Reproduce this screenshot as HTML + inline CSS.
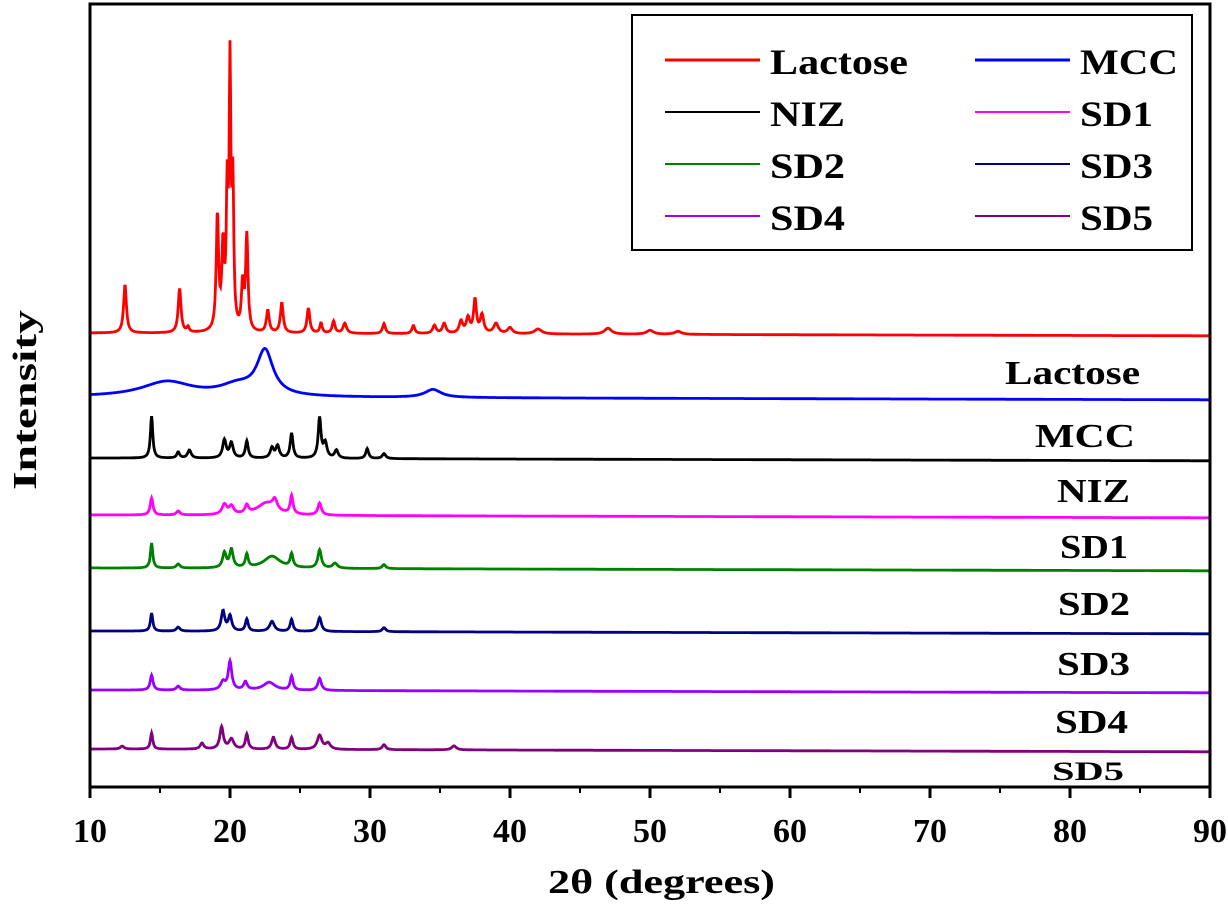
<!DOCTYPE html>
<html><head><meta charset="utf-8"><style>
body{margin:0;background:#fff}
svg text{font-family:"Liberation Serif",serif;font-weight:bold;fill:#000}
</style></head><body>
<svg id="chart" width="1228" height="908" viewBox="0 0 1228 908">
<g id="series"></g>
<rect x="90" y="4" width="1120" height="783" fill="none" stroke="#000" stroke-width="3"/>
<g id="xticks"></g>
<text x="548" y="893" font-size="34" textLength="227" lengthAdjust="spacingAndGlyphs">2θ (degrees)</text>
<text transform="translate(36,490) rotate(-90)" font-size="34" textLength="180" lengthAdjust="spacingAndGlyphs">Intensity</text>
<g id="labels"></g>
<g>
<rect x="632" y="15" width="560" height="235" fill="#fff" stroke="#000" stroke-width="2"/>
<g id="legend"></g>
</g>
</svg>
<script>
const seriesNames=["Lactose","MCC","NIZ","SD1","SD2","SD3","SD4","SD5"];
const seriesColors=["#ff0000","#0000ff","#000000","#ff00ff","#008000","#000080","#9900ff","#800080"];
const baselines=[333,397,458,515,568,631,690,749];
const xTicks=[10,20,30,40,50,60,70,80,90];
// peaks: [2theta, height, width]
const peaksLactose=[[12.5,48,0.12],[16.4,44,0.12],[17,5,0.1],[19.1,115,0.1],[19.5,80,0.1],[19.8,130,0.08],[20.0,250,0.07],[20.2,140,0.08],[20.9,45,0.1],[21.2,95,0.1],[22.7,22,0.12],[23.7,30,0.12],[25.6,25,0.12],[26.5,10,0.1],[27.4,12,0.12],[28.2,10,0.15],[31.0,10,0.12],[33.1,8,0.12],[34.6,8,0.15],[35.3,10,0.15],[36.5,12,0.15],[37.0,15,0.15],[37.5,33,0.12],[38.0,18,0.15],[39.0,10,0.2],[40.0,6,0.2],[42,5,0.3],[47,6,0.3],[50,4,0.3],[52,3,0.3]];
const peaksMCC=[[15.5,15,2.2],[20.5,10,1.5],[22.5,44,0.7],[34.5,8,0.7]];
const peaksNIZ=[[14.4,42,0.1],[16.3,6,0.12],[17.1,8,0.15],[19.6,18,0.15],[20.1,15,0.15],[21.2,17,0.12],[23.0,10,0.15],[23.4,12,0.15],[24.4,25,0.12],[26.4,40,0.12],[26.8,15,0.15],[27.6,8,0.15],[29.8,10,0.12],[31.0,5,0.15]];
const peaksSD1=[[14.4,17,0.12],[16.3,4,0.15],[19.6,10,0.2],[20.1,8,0.2],[21.2,8,0.15],[22.6,12,0.8],[23.2,10,0.2],[24.4,18,0.12],[26.4,12,0.15]];
const peaksSD2=[[14.4,25,0.1],[16.3,4,0.15],[19.6,15,0.15],[20.1,18,0.15],[21.2,13,0.12],[23.0,12,0.7],[24.4,13,0.12],[26.4,18,0.15],[27.5,5,0.2],[31.0,4,0.15]];
const peaksSD3=[[14.4,18,0.1],[16.3,4,0.15],[19.5,20,0.15],[20.0,15,0.15],[21.2,12,0.12],[23.0,10,0.2],[24.4,12,0.12],[26.4,14,0.15],[31,4,0.15]];
const peaksSD4=[[14.4,15,0.12],[16.3,4,0.15],[19.5,8,0.2],[20.0,28,0.15],[21.1,8,0.15],[22.8,8,0.5],[24.4,14,0.12],[26.4,12,0.15]];
const peaksSD5=[[12.3,3,0.15],[14.4,16,0.1],[18.0,6,0.15],[19.4,22,0.15],[20.1,10,0.2],[21.2,15,0.12],[23.1,12,0.15],[24.4,12,0.12],[26.4,14,0.2],[27.0,6,0.2],[31,5,0.15],[36,4,0.2]];
const allPeaks=[peaksLactose,peaksMCC,peaksNIZ,peaksSD1,peaksSD2,peaksSD3,peaksSD4,peaksSD5];
const labelPos=[[1005,384,34,135],[1035,447,34,100],[1057,502,34,73],[1060,558,34,68],[1058,615,34,72],[1057,675,34,73],[1055,733,34,73],[1052,780,26,72]];
const NS="http://www.w3.org/2000/svg";
const X=v=>90+(v-10)*14;
const g=document.getElementById('series');
allPeaks.forEach((pk,i)=>{
  let d="";
  for(let t=10;t<=90.001;t+=0.04){
    let y=0;
    pk.forEach(p=>{const z=(t-p[0])/p[2];y+=p[1]/(1+z*z);});
    const py=baselines[i]-y+(t-10)*0.035;
    d+=(d?"L":"M")+X(t).toFixed(1)+","+py.toFixed(1);
  }
  const path=document.createElementNS(NS,'path');
  path.setAttribute('d',d);path.setAttribute('fill','none');
  path.setAttribute('stroke',seriesColors[i]);path.setAttribute('stroke-width','2.8');
  
  
  g.appendChild(path);
  const lp=labelPos[i];
  const tx=document.createElementNS(NS,'text');
  tx.setAttribute('x',lp[0]);tx.setAttribute('y',lp[1]);tx.setAttribute('font-size',lp[2]);
  tx.setAttribute('textLength',lp[3]);tx.setAttribute('lengthAdjust','spacingAndGlyphs');
  tx.textContent=seriesNames[i];
  
  
  document.getElementById('labels').appendChild(tx);
});
const xt=document.getElementById('xticks');
xTicks.forEach(v=>{
  const l=document.createElementNS(NS,'line');
  l.setAttribute('x1',X(v));l.setAttribute('x2',X(v));l.setAttribute('y1',787);l.setAttribute('y2',798);
  l.setAttribute('stroke','#000');l.setAttribute('stroke-width','3');
  
  
  xt.appendChild(l);
  const t=document.createElementNS(NS,'text');
  t.setAttribute('x',X(v));t.setAttribute('y',842);t.setAttribute('font-size','34');t.setAttribute('text-anchor','middle');
  t.textContent=v;
  
  
  xt.appendChild(t);
  if(v<90){
    const m=document.createElementNS(NS,'line');
    m.setAttribute('x1',X(v+5));m.setAttribute('x2',X(v+5));m.setAttribute('y1',787);m.setAttribute('y2',793);
    m.setAttribute('stroke','#000');m.setAttribute('stroke-width','2');
    
    
    xt.appendChild(m);
  }
});
const lg=document.getElementById('legend');
const legendLens=[138,98,75,73,75,73,75,73];
seriesNames.forEach((n,i)=>{
  const col=i%2,row=Math.floor(i/2);
  const x0=col?975:665,y0=70+row*52;
  const l=document.createElementNS(NS,'line');
  l.setAttribute('x1',x0);l.setAttribute('x2',x0+95);l.setAttribute('y1',y0-10);l.setAttribute('y2',y0-10);
  l.setAttribute('stroke',seriesColors[i]);l.setAttribute('stroke-width',i<2?3:2);
  
  
  lg.appendChild(l);
  const t=document.createElementNS(NS,'text');
  t.setAttribute('x',x0+105);t.setAttribute('y',y0+4);t.setAttribute('font-size','36');
  t.setAttribute('textLength',legendLens[i]);t.setAttribute('lengthAdjust','spacingAndGlyphs');
  t.textContent=n;
  
  
  lg.appendChild(t);
});
</script>
</body></html>
